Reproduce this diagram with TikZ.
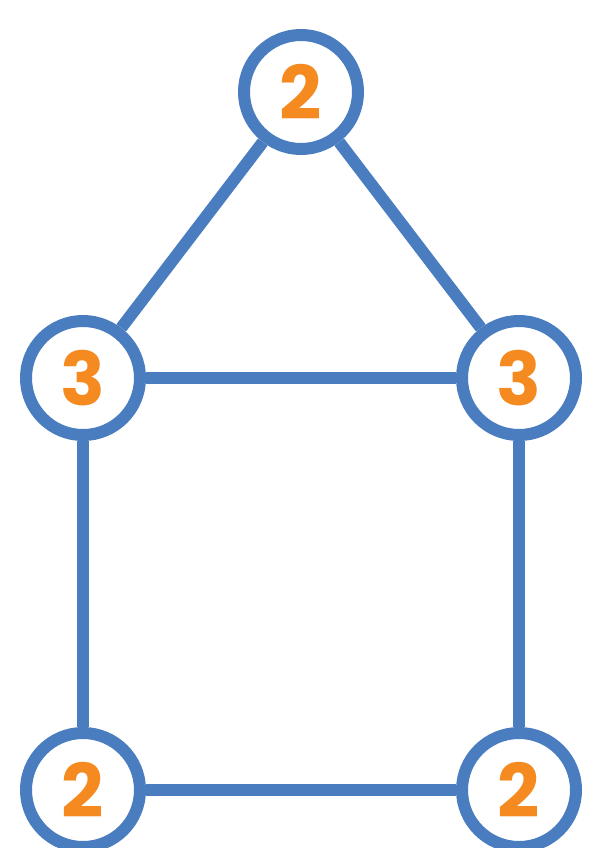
\documentclass[tikz,border=0pt]{standalone}
\usepackage{fontspec}
\setmainfont{Poppins}
\definecolor{edgeblue}{RGB}{74,125,192}
\definecolor{numorange}{RGB}{245,138,32}
\tikzset{
  vert/.style={draw=edgeblue,circle,line width=12pt,fill=white,minimum size=114pt,inner sep=0pt,
    text=numorange,font=\fontsize{74}{74}\selectfont\bfseries},
  link/.style={draw=edgeblue,line width=12pt}
}
\begin{document}
\begin{tikzpicture}[x=1pt,y=-1pt]
\useasboundingbox (0,0) rectangle (604,848);
\node[vert] (top) at (301,92) {2};
\node[vert] (midl) at (83,378) {3};
\node[vert] (midr) at (519,378) {3};
\node[vert] (botl) at (83,790) {2};
\node[vert] (botr) at (519,790) {2};

\draw[link] (top) -- (midl);
\draw[link] (top) -- (midr);
\draw[link] (midl) -- (midr);
\draw[link] (midl) -- (botl);
\draw[link] (midr) -- (botr);
\draw[link] (botl) -- (botr);
\end{tikzpicture}
\end{document}
